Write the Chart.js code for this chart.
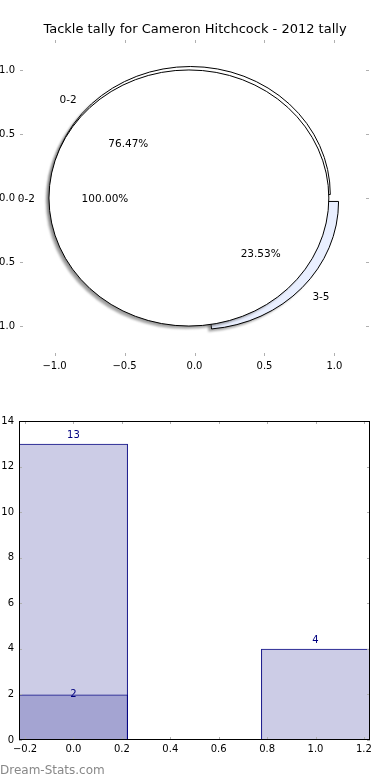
<!DOCTYPE html>
<html><head><meta charset="utf-8">
<script src="https://cdn.jsdelivr.net/npm/chart.js@4.4.1/dist/chart.umd.min.js"></script>
<style>
html,body{margin:0;padding:0;background:#fff;}
#wrap{position:relative;width:390px;height:780px;overflow:hidden;background:#fff;}
#c1{position:absolute;left:0;top:0;}
#c2{position:absolute;left:0;top:390px;}
#wm{position:absolute;left:0;top:763px;font:12px "DejaVu Sans";color:#888;white-space:nowrap;}
</style></head><body>
<div id="wrap">
<canvas id="c1" width="390" height="390"></canvas>
<canvas id="c2" width="390" height="390"></canvas>
<div id="wm">Dream-Stats.com</div>
</div>
<script>
// ---- data ----
const chartTitle = 'Tackle tally for Cameron Hitchcock - 2012 tally';
const pieCategoriesA = ['0-2', '3-5'];
const pieValuesA = [13, 4];
const pieCategoriesB = ['0-2'];
const pieValuesB = [2];
const pieTicks = [-1.0, -0.5, 0.0, 0.5, 1.0];
const barPositions = [0, 1];
const barSeries1 = [13, 4];
const barSeries2 = [2, 0];
const barXTicks = [-0.2, 0.0, 0.2, 0.4, 0.6, 0.8, 1.0, 1.2];
const barYTicks = [0, 2, 4, 6, 8, 10, 12, 14];

// ---- styling ----
const FONT = '"DejaVu Sans", "Liberation Sans", sans-serif';
const pieStyleA = {colors: ['#ffffff', 'rgb(233,239,255)'], explode: [0.04, 0.04]};
const pieStyleB = {colors: ['#ffffff'], explode: [0.04]};
const BAR_WIDTH = 0.45;
const NAVY = '#000080';
const fmt1 = v => (v < 0 ? '\u2212' : '') + Math.abs(v).toFixed(1);

function innerTicks(chart, len, color) {
  const {ctx, chartArea: a, scales} = chart;
  ctx.save();
  ctx.strokeStyle = color; ctx.lineWidth = 1;
  ctx.beginPath();
  scales.x.ticks.forEach(t => {
    const x = Math.round(scales.x.getPixelForValue(t.value)) + 0.5;
    ctx.moveTo(x, a.bottom); ctx.lineTo(x, a.bottom - len);
    ctx.moveTo(x, a.top); ctx.lineTo(x, a.top + len);
  });
  scales.y.ticks.forEach(t => {
    const y = Math.round(scales.y.getPixelForValue(t.value)) + 0.5;
    ctx.moveTo(a.left, y); ctx.lineTo(a.left + len, y);
    ctx.moveTo(a.right, y); ctx.lineTo(a.right - len, y);
  });
  ctx.stroke();
  ctx.restore();
}

const piePlugin = {
  id: 'pies',
  afterDatasetsDraw(chart) {
    const {ctx, scales} = chart;
    const xs = scales.x, ys = scales.y;
    const px = v => xs.getPixelForValue(v), py = v => ys.getPixelForValue(v);
    const rx = px(1) - px(0), ry = py(0) - py(1);
    const pies = [
      {cats: pieCategoriesA, vals: pieValuesA, st: pieStyleA},
      {cats: pieCategoriesB, vals: pieValuesB, st: pieStyleB}
    ];
    const texts = [];
    const path = (cx, cy, t1, t2) => {
      ctx.beginPath();
      const X = px(cx), Y = py(cy);
      if (t2 - t1 >= Math.PI * 2 - 1e-9) {
        ctx.ellipse(X, Y, rx, ry, 0, 0, Math.PI * 2);
      } else {
        ctx.moveTo(X, Y);
        ctx.ellipse(X, Y, rx, ry, 0, -t1, -t2, true);
        ctx.closePath();
      }
    };
    pies.forEach(p => {
      const total = p.vals.reduce((s, v) => s + v, 0);
      let acc = 0;
      p.vals.forEach((v, i) => {
        if (!v) return;
        const t1 = acc / total * Math.PI * 2;
        acc += v;
        const t2 = acc / total * Math.PI * 2;
        const mid = (t1 + t2) / 2;
        const e = p.st.explode[i] || 0;
        const cx = e * Math.cos(mid), cy = e * Math.sin(mid);
        // shadow
        ctx.save();
        ctx.filter = 'blur(1px)';
        ctx.fillStyle = 'rgba(77,77,77,0.5)';
        path(cx - 0.022, cy - 0.022, t1, t2);
        ctx.fill();
        ctx.restore();
        // wedge
        ctx.save();
        ctx.fillStyle = p.st.colors[i];
        ctx.strokeStyle = '#000';
        ctx.lineWidth = 1;
        path(cx, cy, t1, t2);
        ctx.fill(); ctx.stroke();
        ctx.restore();
        const lx = cx + 1.1 * Math.cos(mid), ly = cy + 1.1 * Math.sin(mid);
        texts.push({t: p.cats[i], x: lx, y: ly, align: lx > 0 ? 'left' : 'right'});
        texts.push({t: (v / total * 100).toFixed(2) + '%', x: cx + 0.6 * Math.cos(mid), y: cy + 0.6 * Math.sin(mid), align: 'center'});
      });
    });
    ctx.save();
    ctx.fillStyle = '#000';
    ctx.font = '10.5px ' + FONT;
    ctx.textBaseline = 'middle';
    texts.forEach(o => { ctx.textAlign = o.align; ctx.fillText(o.t, px(o.x), py(o.y) + 1); });
    ctx.restore();
  },
  afterDraw(chart) { innerTicks(chart, 3, '#b0b0b0'); }
};

const barPlugin = {
  id: 'barDeco',
  afterDatasetsDraw(chart) {
    const {ctx, chartArea: a, scales} = chart;
    innerTicks(chart, 3, '#b0b0b0');
    ctx.save();
    ctx.strokeStyle = '#000'; ctx.lineWidth = 1;
    ctx.strokeRect(a.left + 0.5, a.top + 0.5, a.right - a.left - 1, a.bottom - a.top - 1);
    ctx.fillStyle = NAVY;
    ctx.font = '10px ' + FONT;
    ctx.textAlign = 'center'; ctx.textBaseline = 'middle';
    const offs = [0.35, 0];
    chart.data.datasets.forEach((ds, di) => {
      const meta = chart.getDatasetMeta(di);
      ds.data.forEach((d, i) => {
        if (!d.y) return;
        ctx.fillText(String(d.y), meta.data[i].x, scales.y.getPixelForValue(d.y + offs[di]));
      });
    });
    ctx.restore();
  }
};

const tickFont = {family: FONT, size: 10};

new Chart(document.getElementById('c1'), {
  type: 'scatter',
  data: {datasets: []},
  plugins: [piePlugin],
  options: {
    responsive: false, animation: false,
    layout: {padding: {left: 0, right: 0, top: 0, bottom: 0}},
    plugins: {
      legend: {display: false}, tooltip: {enabled: false},
      title: {display: true, text: chartTitle, color: '#000',
        font: {family: FONT, size: 13, weight: 'normal'}, padding: {top: 22, bottom: 2.4}}
    },
    scales: {
      x: {type: 'linear', min: -1.247, max: 1.247,
        afterBuildTicks: s => { s.ticks = pieTicks.map(v => ({value: v})); },
        afterFit: s => { s.height = 34; },
        grid: {display: false, drawTicks: false}, border: {display: false},
        ticks: {color: '#000', font: tickFont, padding: 4, maxRotation: 0, autoSkip: false, callback: v => fmt1(v)}},
      y: {type: 'linear', min: -1.234, max: 1.234,
        afterBuildTicks: s => { s.ticks = pieTicks.map(v => ({value: v})); },
        afterFit: s => { s.width = 20; },
        grid: {display: false, drawTicks: false}, border: {display: false},
        ticks: {color: '#000', font: tickFont, padding: 5, autoSkip: false, callback: v => fmt1(v)}},
      yRight: {type: 'linear', position: 'right', min: -1.234, max: 1.234,
        afterFit: s => { s.width = 21; },
        grid: {display: false, drawTicks: false}, border: {display: false},
        ticks: {display: false}}
    }
  }
});

new Chart(document.getElementById('c2'), {
  type: 'bar',
  data: {datasets: [
    {data: barPositions.map((x, i) => ({x, y: barSeries1[i]})), backgroundColor: 'rgba(0,0,128,0.2)', borderColor: NAVY, borderWidth: 1, borderSkipped: false},
    {data: barPositions.map((x, i) => ({x, y: barSeries2[i]})), backgroundColor: 'rgba(0,0,128,0.2)', borderColor: NAVY, borderWidth: 1, borderSkipped: false}
  ]},
  plugins: [barPlugin],
  options: {
    responsive: false, animation: false,
    layout: {padding: {left: 0, right: 20, top: 31, bottom: 0}},
    datasets: {bar: {grouped: false, categoryPercentage: 1, barPercentage: BAR_WIDTH / (barXTicks[1] - barXTicks[0])}},
    plugins: {legend: {display: false}, tooltip: {enabled: false}},
    scales: {
      x: {type: 'linear', min: -0.225, max: 1.225, offset: false,
        afterBuildTicks: s => { s.ticks = barXTicks.map(v => ({value: v})); },
        afterFit: s => { s.height = 40; },
        grid: {display: false, drawTicks: false}, border: {display: false},
        ticks: {color: '#000', font: tickFont, padding: 3, maxRotation: 0, autoSkip: false, callback: v => fmt1(v)}},
      y: {type: 'linear', min: 0, max: 14,
        afterBuildTicks: s => { s.ticks = barYTicks.map(v => ({value: v})); },
        afterFit: s => { s.width = 19; },
        grid: {display: false, drawTicks: false}, border: {display: false},
        ticks: {color: '#000', font: tickFont, padding: 5, autoSkip: false, callback: v => String(v)}}
    }
  }
});
</script>
</body></html>
